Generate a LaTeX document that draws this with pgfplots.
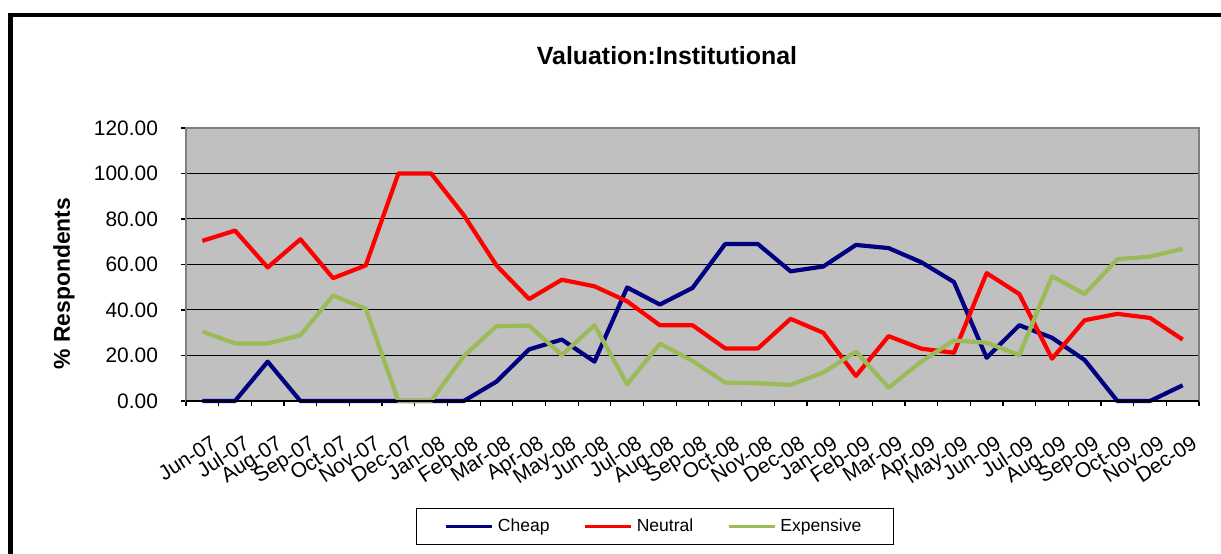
\documentclass[border=0pt]{standalone}
\usepackage{fontspec}
\setmainfont{Liberation Sans}
\usepackage{pgfplots}
\pgfplotsset{compat=1.18}
\usepackage{pgfplotstable}

\definecolor{cheapc}{RGB}{0,0,128}
\definecolor{neutralc}{RGB}{255,0,0}
\definecolor{expc}{RGB}{155,187,89}
\definecolor{plotbg}{RGB}{192,192,192}
\definecolor{framec}{RGB}{128,128,128}

% month index, % of respondents per answer
\pgfplotstableread{
idx cheap neutral expensive
0   0     70.4  30.5
1   0     74.9  25.3
2   17.3  58.7  25.3
3   0     71.1  28.9
4   0     54.0  46.3
5   0     59.6  40.6
6   0     100   0
7   0     100   0
8   0     81.7  19.7
9   8.5   59.6  32.9
10  22.7  44.8  33.1
11  27.0  53.3  20.2
12  17.3  50.4  33.3
13  49.9  43.8  7.4
14  42.4  33.3  25.2
15  49.7  33.3  17.6
16  69.0  23.1  8.1
17  69.0  23.1  7.8
18  57.0  36.1  7.1
19  59.1  30.0  12.5
20  68.6  11.0  21.7
21  67.2  28.5  5.9
22  61.0  23.0  17.3
23  52.3  21.2  26.6
24  19.0  56.2  25.6
25  33.3  47.0  20.2
26  27.8  18.6  54.8
27  18.0  35.5  47.0
28  0     38.3  62.3
29  0     36.5  63.5
30  6.9   27.0  66.9
}\valdata

\begin{document}
\begin{tikzpicture}[x=0.5bp,y=0.5bp]
\useasboundingbox (0,0) rectangle (1221,554);
% outer chart frame (cut at right and bottom)
\fill[black] (8,0) rectangle (11.5,541);
\fill[black] (8,537) rectangle (1221,541);
\draw[black, line width=0.5bp] (12.8,0) -- (12.8,537);

\begin{axis}[
    at={(93bp,76.5bp)}, anchor=south west,
    scale only axis, width=506.5bp, height=136.5bp,
    xmin=-0.5, xmax=30.5, ymin=0, ymax=120,
    xtick={0,...,30},
    xticklabels={Jun-07,Jul-07,Aug-07,Sep-07,Oct-07,Nov-07,Dec-07,Jan-08,Feb-08,Mar-08,Apr-08,May-08,Jun-08,Jul-08,Aug-08,Sep-08,Oct-08,Nov-08,Dec-08,Jan-09,Feb-09,Mar-09,Apr-09,May-09,Jun-09,Jul-09,Aug-09,Sep-09,Oct-09,Nov-09,Dec-09},
    minor xtick={-0.5,0.5,...,30.5},
    ytick={0,20,...,120},
    xtick pos=left, ytick pos=left,
    tick align=outside, major tick length=2.5bp, minor tick length=2.5bp,
    major x tick style={draw=none},
    tick style={black, line width=0.6bp},
    ymajorgrids, grid style={black, line width=0.5bp},
    axis background/.style={fill=plotbg},
    axis line style={framec, line width=0.8bp},
    tick label style={font=\fontsize{10.5}{12}\selectfont},
    yticklabel style={xshift=-8bp, /pgf/number format/.cd, fixed, fixed zerofill, precision=2, assume math mode=true},
    xticklabel style={rotate=33, anchor=north east, yshift=-10.5bp, xshift=-1bp},
    ylabel={\% Respondents},
    ylabel style={font=\bfseries\fontsize{11.5}{13}\selectfont, at={(axis description cs:-0.1204,0.43)}, anchor=center},
    title={Valuation:Institutional},
    title style={font=\bfseries\fontsize{12.5}{14}\selectfont, at={(axis description cs:0.4748,1.223)}, anchor=center},
    legend columns=3,
    legend style={at={(axis description cs:0.463,-0.46)}, anchor=center, draw=black, line width=0.6bp,
        font=\fontsize{8.8}{10}\selectfont, inner xsep=14bp, inner ysep=3bp,
        /tikz/every even column/.append style={column sep=15bp}},
    legend image code/.code={\draw[#1, line width=1.6bp] (0bp,0bp) -- (23bp,0bp);},
    clip=false,
    every axis plot/.append style={line width=2.1bp, line join=round, no markers},
]
\addplot[cheapc] table[x=idx, y=cheap] {\valdata};
\addlegendentry{Cheap}
\addplot[neutralc] table[x=idx, y=neutral] {\valdata};
\addlegendentry{Neutral}
\addplot[expc] table[x=idx, y=expensive] {\valdata};
\addlegendentry{Expensive}
\draw[black, line width=0.8bp] (axis cs:-0.5,0) -- (axis cs:30.5,0);
\end{axis}
\end{tikzpicture}
\end{document}
